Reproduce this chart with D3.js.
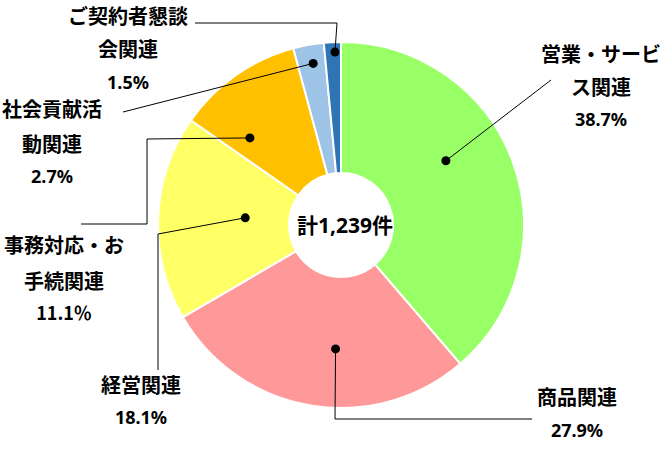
<!DOCTYPE html>
<html><head><meta charset="utf-8">
<script src="https://cdn.jsdelivr.net/npm/d3@7"></script>
<style>
html,body{margin:0;padding:0;background:#fff;}
svg{display:block;}
text{font-family:"Noto Sans CJK JP","Noto Sans",sans-serif;font-weight:700;fill:#000;}
</style></head>
<body>
<svg id="c" width="668" height="459"></svg>
<script>
// ---- data ----
const categories = ["営業・サービス関連","商品関連","経営関連","事務対応・お手続関連","社会貢献活動関連","ご契約者懇談会関連"];
const values = [38.7, 27.9, 18.1, 11.1, 2.7, 1.5];
const pctLabels = ["38.7%","27.9%","18.1%","11.1％","2.7%","1.5%"];
const labelLines = [["営業・サービ","ス関連"],["商品関連"],["経営関連"],["事務対応・お","手続関連"],["社会貢献活","動関連"],["ご契約者懇談","会関連"]];
const colors = ["#99FF66","#FF9999","#FFFF66","#FFC000","#9DC3E6","#2E75B6"];
const totalLabel = "計1,239件";

// ---- layout (label placement) ----
const cx = 341, cy = 225, rOuter = 183, rInner = 52;
// dot: fraction within slice angle, radius; leader: bend points then end; text: centre x, first baseline
const labelLayout = [
  {frac:0.42, r:123, leader:[[551,80]], x:601, y:62, gaps:[33,31]},
  {frac:0.43, r:124, leader:[[335,419],[532,419]], x:577, y:405, gaps:[32]},
  {frac:0.53, r:96,  leader:[[158,234],[158,370]], x:141, y:393, gaps:[31]},
  {frac:0.22, r:126, leader:[[147,139],[147,224],[81,224]], x:64, y:253, gaps:[36,31]},
  {frac:0.55, r:164, leader:[[123,112]], x:52, y:117, gaps:[35,31]},
  {frac:0.63, r:173, leader:[[337,23],[195,23]], x:128, y:24, gaps:[33,32]}
];

const svg = d3.select("#c");
const g = svg.append("g").attr("transform", `translate(${cx},${cy})`);
const pie = d3.pie().sort(null).value(d => d);
const arcs = pie(values);
const arc = d3.arc().innerRadius(rInner).outerRadius(rOuter);

g.selectAll("path.slice").data(arcs).join("path")
  .attr("class","slice")
  .attr("d", arc)
  .attr("fill", (d,i) => colors[i])
  .attr("stroke", "#fff").attr("stroke-width", 2).attr("stroke-linejoin","round");

function dotPos(d, i) {
  const L = labelLayout[i];
  const a = d.startAngle + L.frac * (d.endAngle - d.startAngle);
  return [cx + L.r * Math.sin(a), cy - L.r * Math.cos(a)];
}

const line = d3.line();
arcs.forEach((d, i) => {
  const p = dotPos(d, i);
  const pts = [p].concat(labelLayout[i].leader);
  svg.append("path").attr("d", line(pts)).attr("fill","none")
    .attr("stroke","#000").attr("stroke-width",1);
  svg.append("circle").attr("cx", p[0]).attr("cy", p[1]).attr("r", 4.5).attr("fill","#000");
});

arcs.forEach((d, i) => {
  const L = labelLayout[i];
  let y = L.y;
  const lines = labelLines[i];
  lines.forEach((t, k) => {
    svg.append("text").attr("x", L.x).attr("y", y).attr("text-anchor","middle")
      .attr("font-size", 20).text(t);
    y += L.gaps[k];
  });
  svg.append("text").attr("x", L.x).attr("y", y).attr("text-anchor","middle")
    .attr("font-size", 18).style("font-family", i===3 ? '"Noto Sans CJK JP",sans-serif' : '"Noto Sans","Noto Sans CJK JP",sans-serif')
    .text(pctLabels[i]);
});

svg.append("text").attr("x", cx + 4).attr("y", cy + 8).attr("text-anchor","middle")
  .attr("font-size", 21).style("font-family",'"Noto Sans","Noto Sans CJK JP",sans-serif')
  .text(totalLabel);
</script>
</body></html>
